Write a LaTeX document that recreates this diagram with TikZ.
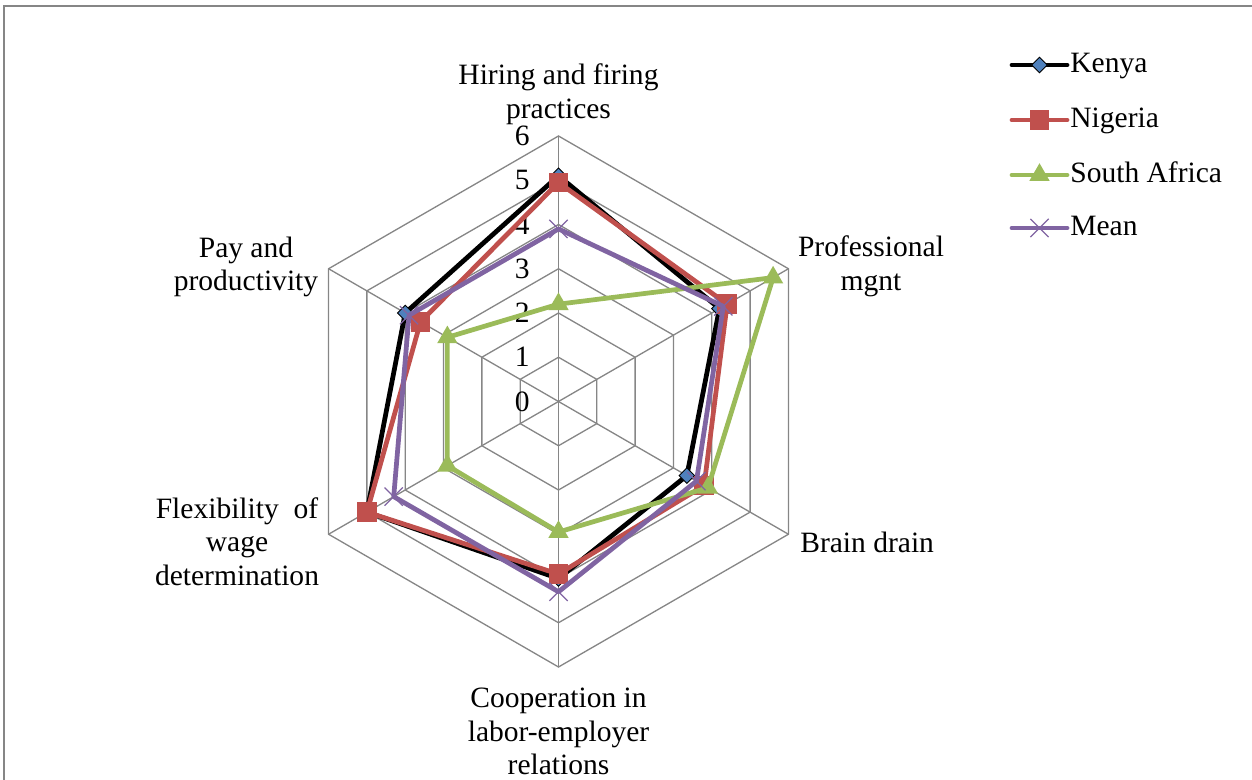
\documentclass[tikz,border=0pt]{standalone}
\usepackage{fontspec}
\setmainfont{Liberation Serif}
\usetikzlibrary{shapes.geometric,shapes.misc}

\definecolor{gridgray}{HTML}{868686}
\definecolor{kenyablue}{HTML}{4F81BD}
\definecolor{nigred}{HTML}{C0504D}
\definecolor{sagreen}{HTML}{9BBB59}
\definecolor{meanpurple}{HTML}{8064A2}

\tikzset{
  chartgrid/.style={draw=gridgray, line width=0.75pt},
  seriesline/.style={line width=2.7pt, line join=round, line cap=round},
  kenya/.style={seriesline, draw=black},
  nigeria/.style={seriesline, draw=nigred},
  safrica/.style={seriesline, draw=sagreen},
  mean/.style={seriesline, draw=meanpurple},
  kenyamark/.style={diamond, fill=kenyablue, draw=black, line width=0.5pt, inner sep=0pt, minimum size=0.32cm},
  nigeriamark/.style={rectangle, fill=nigred, inner sep=0pt, minimum size=0.39cm},
  safricamark/.style={regular polygon, regular polygon sides=3, fill=sagreen, inner sep=0pt, minimum size=0.47cm},
  meanmark/.style={cross out, draw=meanpurple, line width=0.7pt, inner sep=0pt, minimum size=0.34cm},
  lbl/.style={font=\fontsize{16.8}{19.2}\selectfont, align=center, inner sep=0pt},
}

\begin{document}
\begin{tikzpicture}
    \useasboundingbox (-11.17,-7.57) rectangle (13.87,8.03);
    \def\unit{0.885}

    % outer frame
    \draw [gridgray, line width=0.8pt] (-11.09,-7.8) -- (-11.09,7.91) -- (14.0,7.91);

    \coordinate (o) at (0, 0);

    % web
    \foreach \lv in {1,...,6}
      \draw [chartgrid] (90:{\lv*\unit}) -- (30:{\lv*\unit}) -- (-30:{\lv*\unit})
        -- (-90:{\lv*\unit}) -- (-150:{\lv*\unit}) -- (150:{\lv*\unit}) -- cycle;
    \foreach \a [count=\i from 0] in {90,30,-30,-90,-150,150} {
      \coordinate (ax\i) at (\a:{6*\unit});
      \draw [chartgrid] (o) -- (ax\i);
    }

    % scale
    \foreach \lv in {0,...,6}
      \node [lbl, anchor=east] (tick\lv) at (-0.57, {\lv*\unit}) {\lv};

    % axis names
    \node [lbl] (hiring) at (0, 6.14) {Hiring and firing\\practices};
    \node [lbl] (profmgnt) at (6.25, 2.7) {Professional\\mgnt};
    \node [lbl, anchor=west] (brain) at (4.83, -2.82) {Brain drain};
    \node [lbl] (coop) at (0, -6.6) {Cooperation in\\labor-employer\\relations};
    \node [lbl] (flex) at (-6.43, -2.8) {Flexibility~ of\\wage\\determination};
    \node [lbl] (pay) at (-6.25, 2.69) {Pay and\\productivity};

    % Kenya
    \foreach \v [count=\i from 0] in {5.1, 4.2, 3.35, 4.0, 5.0, 4.0}
      \coordinate (ke\i) at ({90-60*\i}:{\v*\unit});
    \draw [kenya] (ke0) -- (ke1) -- (ke2) -- (ke3) -- (ke4) -- (ke5) -- cycle;
    \foreach \i in {0,...,5}
      \node [kenyamark] (kem\i) at (ke\i) {};

    % Nigeria
    \foreach \v [count=\i from 0] in {4.95, 4.4, 3.8, 3.9, 5.0, 3.6}
      \coordinate (ng\i) at ({90-60*\i}:{\v*\unit});
    \draw [nigeria] (ng0) -- (ng1) -- (ng2) -- (ng3) -- (ng4) -- (ng5) -- cycle;
    \foreach \i in {0,...,5}
      \node [nigeriamark] (ngm\i) at (ng\i) {};

    % South Africa
    \foreach \v [count=\i from 0] in {2.2, 5.6, 3.9, 2.95, 2.9, 2.9}
      \coordinate (sa\i) at ({90-60*\i}:{\v*\unit});
    \draw [safrica] (sa0) -- (sa1) -- (sa2) -- (sa3) -- (sa4) -- (sa5) -- cycle;
    \foreach \i in {0,...,5}
      \node [safricamark] (sam\i) at (sa\i) {};

    % Mean
    \foreach \v [count=\i from 0] in {3.9, 4.3, 3.6, 4.3, 4.3, 3.9}
      \coordinate (mn\i) at ({90-60*\i}:{\v*\unit});
    \draw [mean] (mn0) -- (mn1) -- (mn2) -- (mn3) -- (mn4) -- (mn5) -- cycle;
    \foreach \i in {0,...,5}
      \node [meanmark] (mnm\i) at (mn\i) {};

    % legend
    \coordinate (kel1) at (9.07, 6.73);
    \coordinate (kel2) at (10.17, 6.73);
    \draw [kenya] (kel1) -- (kel2);
    \node [kenyamark] (kelm) at (9.62, 6.73) {};
    \node [lbl, anchor=base west] (kelt) at (10.23, 6.57) {Kenya};

    \coordinate (ngl1) at (9.07, 5.63);
    \coordinate (ngl2) at (10.17, 5.63);
    \draw [nigeria] (ngl1) -- (ngl2);
    \node [nigeriamark] (nglm) at (9.62, 5.63) {};
    \node [lbl, anchor=base west] (nglt) at (10.23, 5.47) {Nigeria};

    \coordinate (sal1) at (9.07, 4.53);
    \coordinate (sal2) at (10.17, 4.53);
    \draw [safrica] (sal1) -- (sal2);
    \node [safricamark] (salm) at (9.62, 4.53) {};
    \node [lbl, anchor=base west] (salt) at (10.23, 4.37) {South Africa};

    \coordinate (mnl1) at (9.07, 3.47);
    \coordinate (mnl2) at (10.17, 3.47);
    \draw [mean] (mnl1) -- (mnl2);
    \node [meanmark] (mnlm) at (9.62, 3.47) {};
    \node [lbl, anchor=base west] (mnlt) at (10.23, 3.31) {Mean};
  \end{tikzpicture}
\end{document}
